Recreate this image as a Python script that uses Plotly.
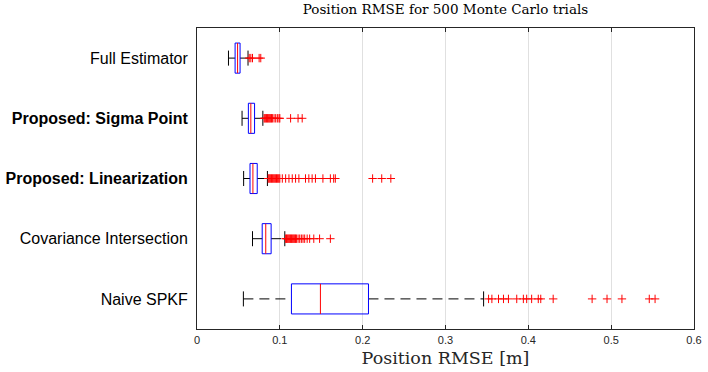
import plotly.graph_objects as go

categories = ["Full Estimator", "<b>Proposed: Sigma Point</b>", "<b>Proposed: Linearization</b>",
              "Covariance Intersection", "Naive SPKF"]
positions = [1, 2, 3, 4, 5]

lower_whisker = [0.038, 0.0544, 0.0563, 0.067, 0.056]
q1 = [0.046, 0.062, 0.064, 0.0787, 0.114]
median = [0.049, 0.065, 0.0675, 0.083, 0.149]
q3 = [0.052, 0.0695, 0.0727, 0.0895, 0.207]
upper_whisker = [0.0616, 0.0795, 0.085, 0.106, 0.346]

outliers_full = [0.063, 0.065, 0.067, 0.075, 0.077]
outliers_sigma = [0.081, 0.082, 0.083, 0.084, 0.085, 0.086, 0.087, 0.088, 0.089, 0.090, 0.091,
                  0.093, 0.095, 0.097, 0.099, 0.100, 0.113, 0.122, 0.127]
outliers_lin = [0.086, 0.087, 0.088, 0.089, 0.090, 0.091, 0.092, 0.093, 0.094, 0.095, 0.096,
                0.097, 0.098, 0.099, 0.100, 0.103, 0.107, 0.111, 0.115, 0.119, 0.123,
                0.131, 0.135, 0.139, 0.143, 0.152, 0.161, 0.165, 0.167, 0.212, 0.223, 0.234]
outliers_ci = [0.107, 0.108, 0.109, 0.110, 0.111, 0.112, 0.113, 0.114, 0.115, 0.116, 0.117,
               0.118, 0.119, 0.120, 0.122, 0.124, 0.126, 0.128, 0.130, 0.133, 0.136,
               0.141, 0.148, 0.161]
outliers_naive = [0.352, 0.356, 0.364, 0.370, 0.376, 0.386, 0.394, 0.398, 0.404, 0.412, 0.415,
                  0.430, 0.477, 0.495, 0.513, 0.546, 0.553]
outliers = [outliers_full, outliers_sigma, outliers_lin, outliers_ci, outliers_naive]

x_ticks = [0, 0.1, 0.2, 0.3, 0.4, 0.5, 0.6]

BOX_H = 0.25
CAP_H = 0.125

box_x, box_y, med_x, med_y, wh_x, wh_y, cap_x, cap_y = [], [], [], [], [], [], [], []
for p, lo, a, m, b, hi in zip(positions, lower_whisker, q1, median, q3, upper_whisker):
    box_x += [a, b, b, a, a, None]
    box_y += [p - BOX_H, p - BOX_H, p + BOX_H, p + BOX_H, p - BOX_H, None]
    med_x += [m, m, None]
    med_y += [p - BOX_H, p + BOX_H, None]
    wh_x += [lo, a, None, b, hi, None]
    wh_y += [p, p, None, p, p, None]
    cap_x += [lo, lo, None, hi, hi, None]
    cap_y += [p - CAP_H, p + CAP_H, None, p - CAP_H, p + CAP_H, None]

out_x, out_y = [], []
for p, vals in zip(positions, outliers):
    out_x += vals
    out_y += [p] * len(vals)

fig = go.Figure()
fig.add_trace(go.Scatter(x=wh_x, y=wh_y, mode="lines",
                         line=dict(color="black", width=1, dash="10px,6px"), hoverinfo="skip"))
fig.add_trace(go.Scatter(x=cap_x, y=cap_y, mode="lines",
                         line=dict(color="black", width=1), hoverinfo="skip"))
fig.add_trace(go.Scatter(x=box_x, y=box_y, mode="lines",
                         line=dict(color="#0000ff", width=1), hoverinfo="skip"))
fig.add_trace(go.Scatter(x=med_x, y=med_y, mode="lines",
                         line=dict(color="#ff0000", width=1), hoverinfo="skip"))
fig.add_trace(go.Scatter(x=out_x, y=out_y, mode="markers",
                         marker=dict(symbol="cross-thin", size=6,
                                     line=dict(color="#ff0000", width=1)),
                         hoverinfo="skip"))

fig.update_layout(
    width=708, height=372,
    margin=dict(l=197, r=14, t=28, b=43, autoexpand=False),
    paper_bgcolor="white", plot_bgcolor="white",
    showlegend=False,
    title=dict(text="Position RMSE for 500 Monte Carlo trials",
               font=dict(family="DejaVu Serif", size=13.5, color="black"),
               x=0.5, xref="paper", xanchor="center", y=1, yref="container", yanchor="top", pad=dict(t=5)),
    xaxis=dict(range=[0, 0.6], tickvals=x_ticks, ticktext=[f"{v:g}" for v in x_ticks],
               automargin=False, ticklabeloverflow="allow",
               showgrid=True, gridcolor="#e0e0e0", gridwidth=1, zeroline=False,
               showline=True, linecolor="#262626", linewidth=1, mirror="ticks",
               ticks="inside", ticklen=4, tickcolor="#262626", ticklabelstandoff=1,
               tickfont=dict(family="Liberation Sans", size=11, color="#262626"),
               title=dict(text="Position RMSE [m]", standoff=6,
                          font=dict(family="DejaVu Serif", size=17.5, color="#262626"))),
    yaxis=dict(range=[5.5, 0.5], tickvals=positions, ticktext=categories,
               automargin=False,
               showgrid=False, zeroline=False, showline=True, linecolor="#262626",
               linewidth=1, mirror=True, ticks="", ticklabelstandoff=5,
               tickfont=dict(family="Liberation Sans", size=16, color="black")),
)

fig.write_html("out.html")
